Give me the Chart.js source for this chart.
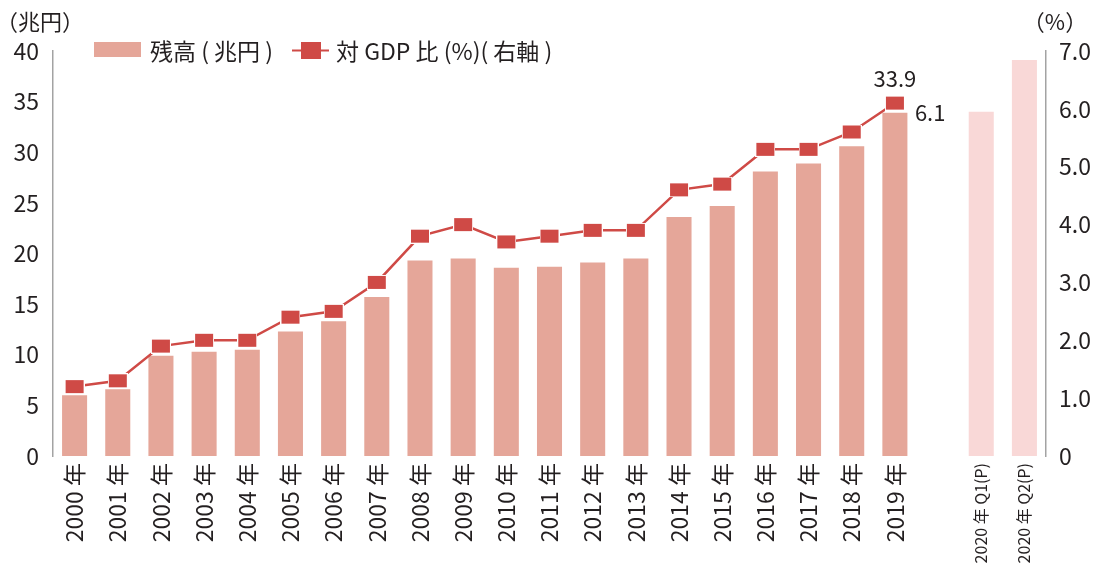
<!DOCTYPE html>
<html>
<head>
<meta charset="utf-8">
<script src="https://cdn.jsdelivr.net/npm/chart.js@4.4.1/dist/chart.umd.min.js"></script>
<style>
  body { margin: 0; background: #fff; }
  canvas { display: block; }
</style>
</head>
<body>
<canvas id="chart" width="1093" height="563"></canvas>
<script>
// categories: 2000-2019, a blank gap, then the two 2020 quarters
const categories = ['2000 年','2001 年','2002 年','2003 年','2004 年','2005 年','2006 年','2007 年',
    '2008 年','2009 年','2010 年','2011 年','2012 年','2013 年','2014 年','2015 年','2016 年',
    '2017 年','2018 年','2019 年','','2020 年 Q1(P)','2020 年 Q2(P)'];
// outstanding balance (trillion yen), left axis
const balance = [6.0, 6.6, 9.9, 10.3, 10.5, 12.3, 13.3, 15.7, 19.3, 19.5, 18.6, 18.7, 19.1, 19.5,
    23.6, 24.7, 28.1, 28.9, 30.6, 33.9, null, 34.0, 39.1];
// ratio to GDP (%), right axis
const gdpRatio = [1.2, 1.3, 1.9, 2.0, 2.0, 2.4, 2.5, 3.0, 3.8, 4.0, 3.7, 3.8, 3.9, 3.9,
    4.6, 4.7, 5.3, 5.3, 5.6, 6.1, null, null, null];
const leftTicks = [0, 5, 10, 15, 20, 25, 30, 35, 40];
const rightTicks = [0, 1, 2, 3, 4, 5, 6, 7];

const FONT = '"Noto Sans CJK JP", "Noto Sans", sans-serif';
const TEXT = '#231f20';
const BAR = '#e5a699';
const BAR_LIGHT = '#f9d8d7';
const LINE = '#cf4a46';
const AXIS = '#a3a3a3';

// rectangular marker with thin white edge
const marker = document.createElement('canvas');
marker.width = 20; marker.height = 15;
const mc = marker.getContext('2d');
mc.fillStyle = '#fff'; mc.fillRect(0, 0, 20, 15);
mc.fillStyle = LINE; mc.fillRect(1, 1, 18, 13);

const extras = {
    id: 'extras',
    afterDraw(chart) {
        const ctx = chart.ctx;
        const area = chart.chartArea;
        ctx.save();
        ctx.fillStyle = TEXT;
        ctx.textBaseline = 'middle';

        // axis titles
        ctx.font = '22px ' + FONT;
        ctx.textAlign = 'center';
        ctx.fillText('（兆円）', 40, 22);
        ctx.fillText('（%）', area.right + 9, 22);

        // legend
        ctx.fillStyle = BAR;
        ctx.fillRect(94, 42, 47, 15);
        ctx.strokeStyle = LINE;
        ctx.lineWidth = 2;
        ctx.beginPath(); ctx.moveTo(292, 50.5); ctx.lineTo(329, 50.5); ctx.stroke();
        ctx.fillStyle = LINE;
        ctx.fillRect(301, 42, 20, 17);
        ctx.fillStyle = TEXT;
        ctx.font = '23px ' + FONT;
        ctx.textAlign = 'left';
        ctx.fillText('残高 ( 兆円 )', 150, 51);
        ctx.fillText('対 GDP 比 (%)( 右軸 )', 336, 51);

        // value labels for the last year
        const last = 19;
        const pt = chart.getDatasetMeta(0).data[last];
        const bar = chart.getDatasetMeta(1).data[last];
        ctx.font = '22px ' + FONT;
        ctx.textAlign = 'center';
        ctx.fillText(balance[last].toFixed(1), pt.x, pt.y - 24);
        ctx.textAlign = 'left';
        ctx.fillText(gdpRatio[last].toFixed(1), bar.x + 20, bar.y);
        ctx.restore();
    }
};

new Chart(document.getElementById('chart'), {
    data: {
        labels: categories,
        datasets: [{
            type: 'line',
            label: '対 GDP 比 (%)( 右軸 )',
            data: gdpRatio,
            yAxisID: 'y1',
            borderColor: LINE,
            borderWidth: 2.5,
            pointStyle: marker,
            pointRadius: 9,
            tension: 0,
            order: 0
        }, {
            type: 'bar',
            label: '残高 ( 兆円 )',
            data: balance,
            yAxisID: 'y',
            backgroundColor: balance.map((v, i) => i > 20 ? BAR_LIGHT : BAR),
            barPercentage: 0.58,
            categoryPercentage: 1.0,
            order: 1
        }]
    },
    options: {
        responsive: false,
        animation: false,
        events: [],
        layout: { padding: { top: 51, left: 0, right: 0, bottom: 0 } },
        plugins: { legend: { display: false }, tooltip: { enabled: false } },
        scales: {
            x: {
                grid: { display: false, drawTicks: false },
                border: { display: false },
                afterFit: s => { s.height = 107; },
                ticks: {
                    autoSkip: false,
                    maxRotation: 90,
                    minRotation: 90,
                    padding: 7,
                    color: TEXT,
                    font: ctx => ({ family: FONT, size: ctx.index > 20 ? 16 : 23 })
                }
            },
            y: {
                position: 'left',
                min: 0,
                max: 40,
                grid: { display: false, drawTicks: false },
                border: { display: true, color: AXIS, width: 1.5 },
                afterFit: s => { s.width = 53; },
                afterBuildTicks: s => { s.ticks = leftTicks.map(v => ({ value: v })); },
                ticks: {
                    padding: 14,
                    color: TEXT,
                    font: { family: FONT, size: 23 }
                }
            },
            y1: {
                position: 'right',
                min: 0,
                max: 7,
                grid: { display: false, drawTicks: false },
                border: { display: true, color: AXIS, width: 1.5 },
                afterFit: s => { s.width = 47; },
                afterBuildTicks: s => { s.ticks = rightTicks.map(v => ({ value: v })); },
                ticks: {
                    padding: 13,
                    color: TEXT,
                    font: { family: FONT, size: 23 },
                    callback: v => v === 0 ? '0' : v.toFixed(1)
                }
            }
        }
    },
    plugins: [extras]
});
</script>
</body>
</html>
